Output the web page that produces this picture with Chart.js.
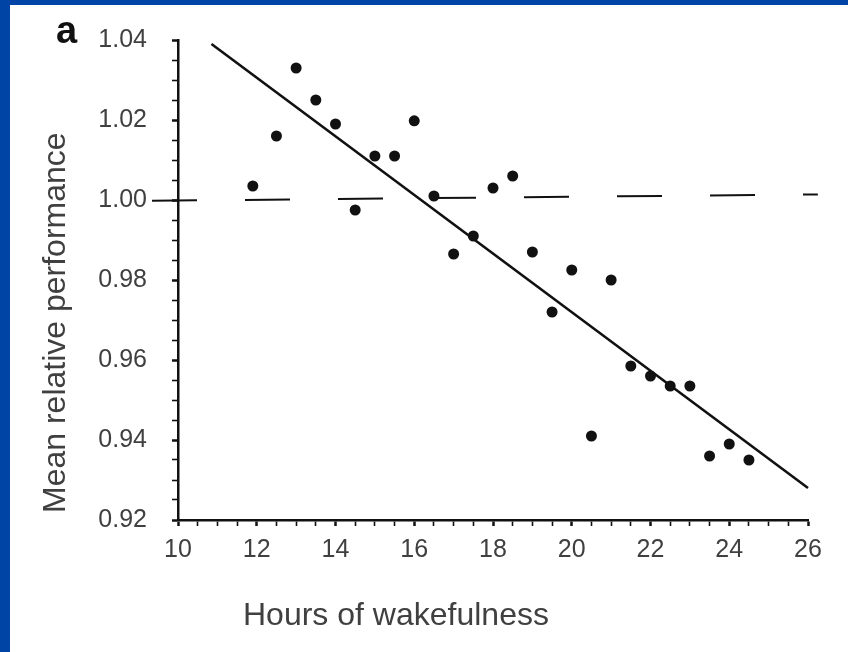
<!DOCTYPE html>
<html>
<head>
<meta charset="utf-8">
<title>Hours of wakefulness</title>
<script src="https://cdn.jsdelivr.net/npm/chart.js@4.4.0/dist/chart.umd.min.js"></script>
<style>
  html, body { margin: 0; padding: 0; background: #fff; }
  canvas { display: block; }
</style>
</head>
<body>
<canvas id="myChart" width="848" height="652"></canvas>
<script>
// data
const hours = [11.9, 12.5, 13, 13.5, 14, 14.5, 15, 15.5, 16, 16.5, 17, 17.5, 18,
               18.5, 19, 19.5, 20, 20.5, 21, 21.5, 22, 22.5, 23, 23.5, 24, 24.5];
const performance = [1.0035, 1.016, 1.033, 1.025, 1.019, 0.9975, 1.011, 1.011, 1.0198,
                     1.001, 0.9865, 0.991, 1.003, 1.006, 0.987, 0.972, 0.9825, 0.941,
                     0.980, 0.9585, 0.956, 0.9535, 0.9535, 0.936, 0.939, 0.935];
// regression line
const fitHours = [10.85, 26];
const fitPerformance = [1.039, 0.928];
// dashed 1.00 reference (slightly tilted in the scan)
const refHours = [9.34, 26.25];
const refPerformance = [0.9998, 1.0014];

const xTickLabels = [10, 12, 14, 16, 18, 20, 22, 24, 26];
const yTickLabels = [0.92, 0.94, 0.96, 0.98, 1.00, 1.02, 1.04];

const toPoints = (xs, ys) => xs.map((x, i) => ({ x: x, y: ys[i] }));

const FONT = "'Liberation Sans', Arial, sans-serif";
const ink = '#111';
const grey = '#404040';

const isMajorX = v => xTickLabels.some(t => Math.abs(t - v) < 1e-6);
const isMajorY = v => yTickLabels.some(t => Math.abs(t - v) < 1e-6);

// background, blue frame and the free texts
const paper = {
  id: 'paper',
  beforeDraw(chart) {
    const c = chart.ctx;
    c.save();
    c.fillStyle = '#fff';
    c.fillRect(0, 0, chart.width, chart.height);
    c.restore();
  },
  afterDraw(chart) {
    const c = chart.ctx;
    c.save();
    c.fillStyle = '#0044a6';
    c.fillRect(0, 0, chart.width, 5);
    c.fillRect(0, 0, 10, chart.height);

    c.fillStyle = ink;
    c.font = 'bold 38px ' + FONT;
    c.textBaseline = 'alphabetic';
    c.fillText('a', 56, 43);

    c.fillStyle = grey;
    c.font = '32px ' + FONT;
    c.fillText('Hours of wakefulness', 243, 625);

    c.translate(65, 513);
    c.rotate(-Math.PI / 2);
    c.fillText('Mean relative performance', 0, 0);
    c.restore();
  }
};

const myChart = document.getElementById('myChart').getContext('2d');

const chart = new Chart(myChart, {
  data: {
    datasets: [{
      type: 'line',
      data: toPoints(refHours, refPerformance),
      borderColor: ink,
      borderWidth: 2,
      borderDash: [45, 48],
      pointRadius: 0,
      clip: false,
      order: 3
    }, {
      type: 'line',
      data: toPoints(fitHours, fitPerformance),
      borderColor: ink,
      borderWidth: 2.6,
      pointRadius: 0,
      clip: false,
      order: 2
    }, {
      type: 'scatter',
      data: toPoints(hours, performance),
      backgroundColor: ink,
      borderColor: ink,
      borderWidth: 0,
      pointRadius: 5.5,
      order: 1
    }]
  },
  options: {
    responsive: false,
    animation: false,
    layout: { padding: { left: 0, right: 40, top: 40, bottom: 0 } },
    plugins: {
      legend: { display: false },
      tooltip: { enabled: false }
    },
    scales: {
      x: {
        type: 'linear',
        min: 10,
        max: 26,
        border: { color: ink, width: 2.5 },
        grid: {
          drawOnChartArea: false,
          tickLength: 6,
          tickColor: ink,
          tickWidth: ctx => isMajorX(ctx.tick.value) ? 2.5 : 1.6
        },
        ticks: {
          stepSize: 0.5,
          autoSkip: false,
          maxRotation: 0,
          padding: 9,
          color: grey,
          font: { family: FONT, size: 25 },
          callback: v => isMajorX(v) ? String(Math.round(v)) : ''
        },
        afterFit: s => { s.height = 132; }
      },
      y: {
        type: 'linear',
        min: 0.92,
        max: 1.04,
        border: { color: ink, width: 2.5 },
        grid: {
          drawOnChartArea: false,
          tickLength: 6,
          tickColor: ink,
          tickWidth: ctx => isMajorY(ctx.tick.value) ? 2.5 : 1.6
        },
        ticks: {
          stepSize: 0.005,
          autoSkip: false,
          padding: 25,
          color: grey,
          font: { family: FONT, size: 25 },
          callback: v => isMajorY(v) ? v.toFixed(2) : ''
        },
        afterFit: s => { s.width = 178; }
      }
    }
  },
  plugins: [paper]
});
</script>
</body>
</html>
